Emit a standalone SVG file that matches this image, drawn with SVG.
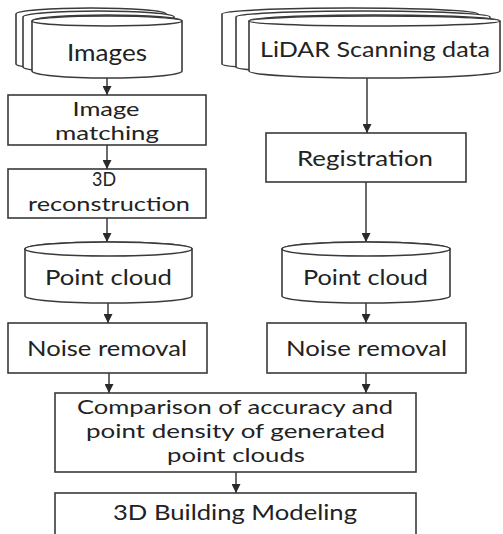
<svg xmlns="http://www.w3.org/2000/svg" width="503" height="534" viewBox="0 0 503 534">
<style>
.s{fill:#fff;stroke:#3a3a3a;stroke-width:1.6}
.t{font-family:Lato,"Open Sans",sans-serif;fill:#222;text-anchor:middle}
.c{stroke:#3a3a3a;stroke-width:1.5;fill:none}
</style>
<defs>
<marker id="a" markerUnits="userSpaceOnUse" markerWidth="9" markerHeight="9" viewBox="0 0 10 10" refX="10" refY="5" orient="auto">
<path d="M0,0 L10,5 L0,10 Z" fill="#2a2a2a"/>
</marker>
</defs>
<g id="images">
<path class="s" d="M16,14 A75,6 0 0 1 166,14 L166,64 A75,6 0 0 1 16,64 Z"/>
<path class="s" d="M23,17 A75.5,6 0 0 1 174,17 L174,67 A75.5,6 0 0 1 23,67 Z"/>
<path class="s" d="M32,21 A75,6 0 0 1 182,21 L182,71 A75,7 0 0 1 32,71 Z"/>
<ellipse class="s" cx="107" cy="21" rx="75" ry="5"/>
<text class="t" x="107" y="61" font-size="24" textLength="80" lengthAdjust="spacingAndGlyphs">Images</text>
</g>
<g id="lidar">
<path class="s" d="M222,14 A128,6 0 0 1 478,14 L478,64 A128,6 0 0 1 222,64 Z"/>
<path class="s" d="M236,17 A127,6 0 0 1 490,17 L490,67 A127,6 0 0 1 236,67 Z"/>
<path class="s" d="M249,21 A125.5,6 0 0 1 500,21 L500,71 A125.5,7 0 0 1 249,71 Z"/>
<ellipse class="s" cx="374.5" cy="21" rx="125.5" ry="5"/>
<text class="t" x="375" y="57" font-size="22" textLength="230" lengthAdjust="spacingAndGlyphs">LiDAR Scanning data</text>
</g>
<g id="matching">
<rect class="s" x="8" y="95" width="198" height="50"/>
<text class="t" x="106" y="116" font-size="19" textLength="67" lengthAdjust="spacingAndGlyphs">Image</text>
<text class="t" x="107" y="140" font-size="19" textLength="104" lengthAdjust="spacingAndGlyphs">matching</text>
</g>
<g id="recon">
<rect class="s" x="8" y="169" width="198" height="49"/>
<text class="t" x="104" y="186" font-size="20" textLength="24" lengthAdjust="spacingAndGlyphs">3D</text>
<text class="t" x="109" y="211" font-size="20" textLength="162" lengthAdjust="spacingAndGlyphs">reconstruction</text>
</g>
<g id="registration">
<rect class="s" x="266" y="133" width="200" height="49"/>
<text class="t" x="365" y="166" font-size="22" textLength="136" lengthAdjust="spacingAndGlyphs">Registration</text>
</g>
<g id="pc-left">
<path class="s" d="M25,249 A83.5,7 0 0 1 192,249 L192,296 A83.5,7 0 0 1 25,296 Z"/>
<ellipse class="s" cx="108.5" cy="249" rx="83.5" ry="7"/>
<text class="t" x="108.5" y="285" font-size="22" textLength="127" lengthAdjust="spacingAndGlyphs">Point cloud</text>
</g>
<g id="pc-right">
<path class="s" d="M282,249 A84,7 0 0 1 450,249 L450,296 A84,7 0 0 1 282,296 Z"/>
<ellipse class="s" cx="366" cy="249" rx="84" ry="7"/>
<text class="t" x="365.5" y="285" font-size="22" textLength="125" lengthAdjust="spacingAndGlyphs">Point cloud</text>
</g>
<g id="noise-left">
<rect class="s" x="8" y="323" width="199" height="50"/>
<text class="t" x="107" y="356" font-size="22" textLength="160" lengthAdjust="spacingAndGlyphs">Noise removal</text>
</g>
<g id="noise-right">
<rect class="s" x="267" y="323" width="199" height="50"/>
<text class="t" x="366.5" y="356" font-size="22" textLength="161" lengthAdjust="spacingAndGlyphs">Noise removal</text>
</g>
<g id="comparison">
<rect class="s" x="55" y="393" width="361" height="79"/>
<text class="t" x="235" y="414" font-size="20" textLength="316" lengthAdjust="spacingAndGlyphs">Comparison of accuracy and</text>
<text class="t" x="235.5" y="438" font-size="20" textLength="299" lengthAdjust="spacingAndGlyphs">point density of generated</text>
<text class="t" x="236" y="462" font-size="20" textLength="138" lengthAdjust="spacingAndGlyphs">point clouds</text>
</g>
<g id="modeling">
<rect class="s" x="55" y="493" width="361" height="60"/>
<text class="t" x="235" y="520" font-size="22" textLength="244" lengthAdjust="spacingAndGlyphs">3D Building Modeling</text>
</g>
<g id="connectors">
<line class="c" x1="107" y1="78" x2="107" y2="95" marker-end="url(#a)"/>
<line class="c" x1="107" y1="145" x2="107" y2="169" marker-end="url(#a)"/>
<line class="c" x1="107" y1="218" x2="107" y2="242" marker-end="url(#a)"/>
<line class="c" x1="108" y1="303" x2="108" y2="323" marker-end="url(#a)"/>
<line class="c" x1="109" y1="373" x2="109" y2="393" marker-end="url(#a)"/>
<line class="c" x1="367" y1="78" x2="367" y2="133" marker-end="url(#a)"/>
<line class="c" x1="366" y1="182" x2="366" y2="242" marker-end="url(#a)"/>
<line class="c" x1="366" y1="303" x2="366" y2="323" marker-end="url(#a)"/>
<line class="c" x1="366" y1="373" x2="366" y2="393" marker-end="url(#a)"/>
<line class="c" x1="236" y1="472" x2="236" y2="493" marker-end="url(#a)"/>
</g>
</svg>
